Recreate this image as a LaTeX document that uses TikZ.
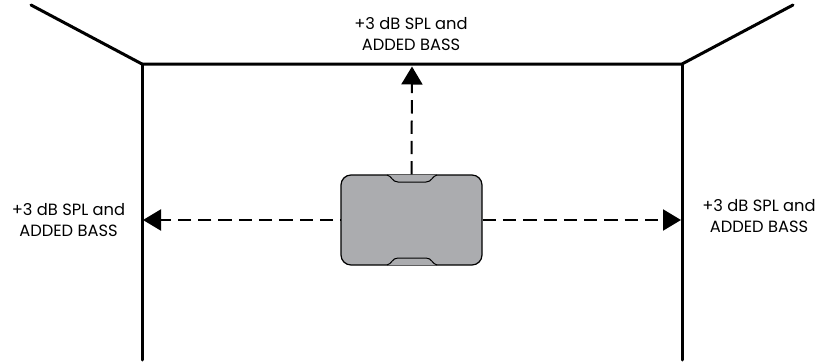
\documentclass[tikz,border=0pt]{standalone}
\usepackage{fontspec}
\setmainfont{Poppins}
\usepackage{xcolor}
\usetikzlibrary{positioning,arrows.meta}
\definecolor{boxgrey}{HTML}{ABACAF}
\tikzset{
  wall/.style={line width=3pt,line cap=round,line join=miter},
  soundarrow/.style={line width=2pt,dash pattern=on 13.3pt off 7pt,-{Triangle[length=18pt,width=21pt]}},
  speakerbox/.style={draw,line width=1.2pt,fill=boxgrey,rounded corners=10pt,minimum width=141pt,minimum height=90pt,inner sep=0pt},
  notch/.style={line width=1pt,fill=boxgrey},
  gainlabel/.style={align=center,font=\fontsize{16.3}{21}\selectfont,inner sep=0pt}
}
\begin{document}
\begin{tikzpicture}[x=1pt,y=-1pt]
        \useasboundingbox (0,0) rectangle (817,364);
        % room
        \coordinate (cornerL) at (142,64);
        \coordinate (cornerR) at (682,64);
        \coordinate (farL) at (31,5);
        \coordinate (farR) at (793,5);
        \coordinate (baseL) at (142,360);
        \coordinate (baseR) at (682,360);
        \draw[wall] (farL) -- (cornerL) -- (cornerR) -- (farR);
        \draw[wall] (cornerL) -- (baseL);
        \draw[wall] (cornerR) -- (baseR);
        % speaker
        \node[speakerbox] (box) at (411.5,220) {};
        \draw[notch] (387,175) .. controls (392,176) and (392,182) .. (398,182) -- (426,182) .. controls (432,182) and (432,176) .. (437,175);
        \draw[notch] (387,265) .. controls (392,264) and (392,258) .. (398,258) -- (426,258) .. controls (432,258) and (432,264) .. (437,265);
        % arrows
        \coordinate (tipT) at (412,66.5);
        \coordinate (tipL) at (143,220);
        \coordinate (tipR) at (681,220);
        \draw[soundarrow] (box.north) -- (tipT);
        \draw[soundarrow,dash phase=13pt] (box.west) -- (tipL);
        \draw[soundarrow] (box.east) -- (tipR);
        % labels
        \node[gainlabel] (labelT) at (411,34.5) {+3 dB SPL and\\ADDED BASS};
        \node[gainlabel] (labelL) at (68.5,220) {+3 dB SPL and\\ADDED BASS};
        \node[gainlabel] (labelR) at (759,216) {+3 dB SPL and\\ADDED BASS};
      \end{tikzpicture}
\end{document}
